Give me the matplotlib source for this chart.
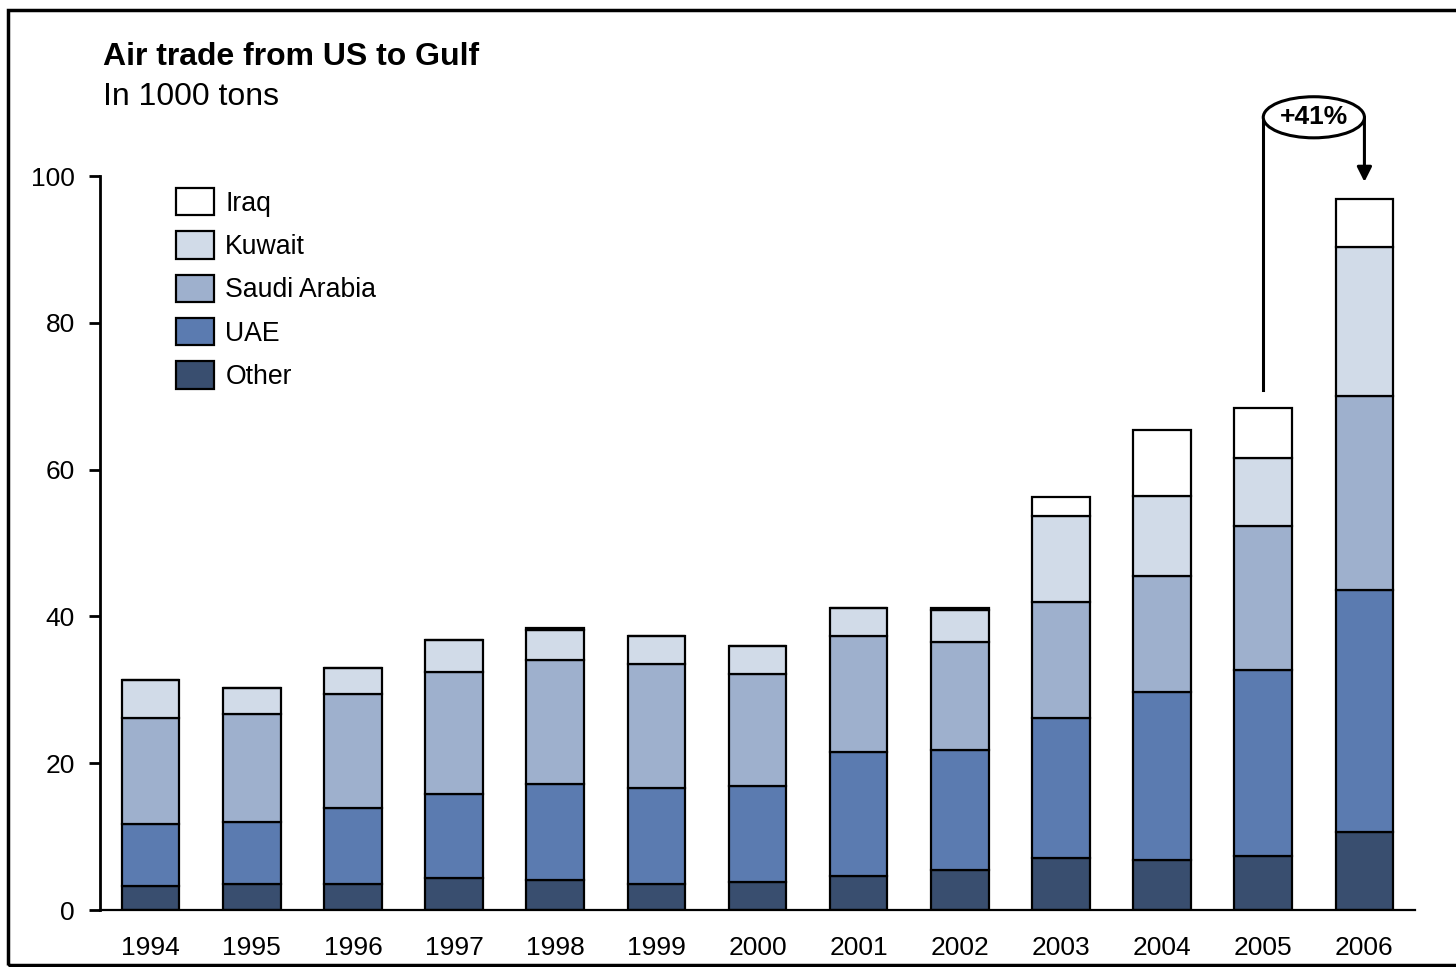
import numpy as np
import matplotlib.pyplot as plt
from matplotlib.patches import Ellipse, Rectangle

plt.rcParams['font.family'] = ['Liberation Sans', 'DejaVu Sans']

# Data (1000 tons)
years = ['1994', '1995', '1996', '1997', '1998', '1999', '2000',
         '2001', '2002', '2003', '2004', '2005', '2006']
other = [3.3, 3.5, 3.5, 4.4, 4.1, 3.5, 3.8, 4.6, 5.4, 7.1, 6.8, 7.4, 10.6]
uae = [8.4, 8.5, 10.4, 11.4, 13.1, 13.1, 13.1, 16.9, 16.4, 19.1, 22.9, 25.3, 33.0]
saudi = [14.5, 14.7, 15.5, 16.6, 16.9, 16.9, 15.3, 15.8, 14.7, 15.8, 15.8, 19.6, 26.4]
kuwait = [5.1, 3.5, 3.6, 4.4, 4.0, 3.8, 3.8, 3.8, 4.4, 11.7, 10.9, 9.3, 20.3]
iraq = [0.0, 0.0, 0.0, 0.0, 0.3, 0.0, 0.0, 0.0, 0.2, 2.6, 9.0, 6.8, 6.6]

series = [('Other', other, '#394e6f'),
          ('UAE', uae, '#5b7bb0'),
          ('Saudi Arabia', saudi, '#9eb0cd'),
          ('Kuwait', kuwait, '#d1dbe8'),
          ('Iraq', iraq, '#ffffff')]

fig = plt.figure(figsize=(14.56, 9.67), dpi=100)
ax = fig.add_axes([100 / 1456, 1 - 910 / 967, 1315 / 1456, 734 / 967])

x = np.arange(len(years))
bottom = np.zeros(len(years))
handles = []
for name, vals, col in series:
    vals = np.array(vals)
    bars = ax.bar(x, vals, 0.57, bottom=bottom, color=col, edgecolor='black',
                  linewidth=1.6, label=name, zorder=2)
    bottom += vals
    handles.append(bars)

ax.set_xlim(-0.5, 12.5)
ax.set_ylim(0, 100)
ax.set_yticks([0, 20, 40, 60, 80, 100])
ax.set_xticks(x)
ax.set_xticklabels(years)
ax.tick_params(axis='y', length=8, width=2, direction='out', labelsize=19, pad=10)
ax.tick_params(axis='x', length=0, labelsize=19, pad=19)
ax.spines['top'].set_visible(False)
ax.spines['right'].set_visible(False)
ax.spines['left'].set_linewidth(2)
ax.spines['bottom'].set_linewidth(1.6)

leg = ax.legend(handles[::-1], [s[0] for s in series][::-1], loc='upper left',
                bbox_to_anchor=(0.058, 0.9837), frameon=False, fontsize=19.2,
                handlelength=1.42, handleheight=1.2, handletextpad=0.42,
                labelspacing=0.55, borderpad=0, borderaxespad=0)
for p in leg.get_patches():
    p.set_linewidth(1.6)

# growth annotation 2005 -> 2006
ytop = 108
ax.plot([11, 11], [70.8, ytop], color='black', lw=2.2, clip_on=False)
ax.annotate('', xy=(12, 99.2), xytext=(12, ytop), xycoords='data',
            arrowprops=dict(arrowstyle='-|>', color='black', lw=2.2,
                            mutation_scale=22, shrinkA=0, shrinkB=0),
            annotation_clip=False)
ax.add_patch(Ellipse((11.5, ytop), 1.0, 5.6, facecolor='white', edgecolor='black',
                     lw=2.2, clip_on=False, zorder=5))
ax.text(11.5, ytop, '+41%', ha='center', va='center', fontsize=19,
        fontweight='bold', zorder=6)

fig.text(103 / 1456, 1 - 57 / 967, 'Air trade from US to Gulf', fontsize=23,
         fontweight='bold', va='center', ha='left')
fig.text(103 / 1456, 1 - 97 / 967, 'In 1000 tons', fontsize=23,
         va='center', ha='left')

# outer frame
fig.add_artist(Rectangle((8 / 1456, 1 - 965 / 967), 1.2, 955 / 967,
                         transform=fig.transFigure, fill=False,
                         edgecolor='black', lw=2.5))

fig.savefig('out.png', dpi=100)
